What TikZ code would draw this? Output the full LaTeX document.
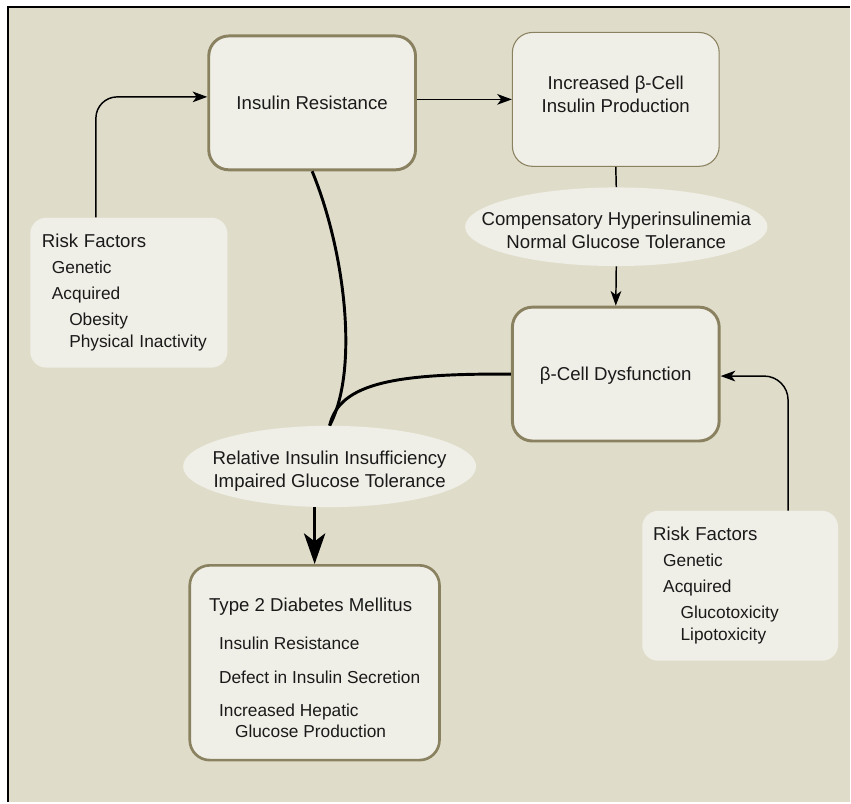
\documentclass[tikz,border=0pt]{standalone}
\usepackage{fontspec}
\setmainfont{Liberation Sans}
\usetikzlibrary{arrows.meta,shapes.geometric}
\definecolor{bgbeige}{HTML}{DFDDCA}
\definecolor{boxfill}{HTML}{F0EFE7}
\definecolor{boxline}{HTML}{8A8160}
\definecolor{inktext}{HTML}{1A1A1A}
\newcommand{\indA}{\hspace*{7.5pt}}
\newcommand{\indB}{\hspace*{20.5pt}}

\begin{document}
\begin{tikzpicture}[x=0.75pt, y=-0.75pt,
  stage/.style={draw=boxline, fill=boxfill, rounded corners=15pt, line width=2.2pt,
    minimum width=155.25pt, minimum height=100.5pt, align=center, text=inktext,
    font=\fontsize{14}{17.25}\selectfont},
  riskbox/.style={fill=boxfill, rounded corners=12pt, minimum width=148pt,
    minimum height=112.5pt, text width=130.5pt, align=left, text=inktext,
    font=\fontsize{13}{16.5}\selectfont},
  bubble/.style={ellipse, fill=boxfill, inner sep=0pt},
  bubbletext/.style={align=center, text=inktext, font=\fontsize{14}{17.25}\selectfont},
  flow/.style={line width=1.1pt, -{Stealth[length=11pt, width=8pt, inset=3pt]}},
  thickflow/.style={line width=2.2pt}
]
% page and frame
\fill[white] (0,0) rectangle (851,803);
\fill[bgbeige] (8,7) rectangle (851,803);
\draw[line width=1.5pt] (8,803) -- (8,7) -- (851,7);
\useasboundingbox (0,0) rectangle (851,803);

% boxes
\node[stage] (IR) at (312.5,103) {Insulin Resistance};
\node[stage, line width=0.8pt] (BP) at (616.5,99.5)
  {Increased β-Cell\\Insulin Production\rule[-8pt]{0pt}{1pt}};
\node[stage] (BD) at (616.5,374.5) {\rule{0pt}{12pt}β-Cell Dysfunction};
\node[stage, line width=2pt, minimum width=187.5pt, minimum height=146.25pt, align=left,
  font=\fontsize{13}{15.75}\selectfont] (T2) at (315,663.5)
  {{\fontsize{14}{15.75}\selectfont\rule{0pt}{18pt}Type 2 Diabetes Mellitus}\\[12.5pt]
   \indA Insulin Resistance\\[10.5pt]
   \indA Defect in Insulin Secretion\\[9pt]
   \indA Increased Hepatic\\
   \indA\hspace*{12pt}Glucose Production};

% ellipses
\node[bubble, minimum width=227pt, minimum height=59pt,
  label={[bubbletext, yshift=-3pt]center:Compensatory Hyperinsulinemia\\Normal Glucose Tolerance}] (CH) at (617,227) {};
\node[bubble, minimum width=220pt, minimum height=61pt,
  label={[bubbletext, yshift=-3.75pt]center:Relative Insulin Insufficiency\\Impaired Glucose Tolerance}] (RI) at (330,467) {};

% risk factors
\node[riskbox] (RF1) at (129,293)
  {{\fontsize{14}{16.5}\selectfont Risk Factors}\\[3pt]
   \indA Genetic\\[3pt]
   \indA Acquired\\[3pt]
   \indB Obesity\\
   \indB Physical Inactivity};
\node[riskbox, minimum width=147pt] (RF2) at (741,586.5)
  {{\fontsize{14}{16.5}\selectfont Risk Factors}\\[3pt]
   \indA Genetic\\[3pt]
   \indA Acquired\\[3pt]
   \indB Glucotoxicity\\
   \indB Lipotoxicity};

% connectors
\draw[flow, rounded corners=16pt] ([xshift=-24.75pt]RF1.north) |- ([yshift=4.5pt]IR.west);
\draw[flow] (IR.east |- BP.west) -- (BP.west);
\draw[line width=1.1pt] (BP.south) -- (CH.north);
\draw[flow] (CH.south) -- (BD.north);
\draw[flow, rounded corners=18pt] ([xshift=36pt]RF2.north) |- ([yshift=-1.5pt]BD.east);
\draw[thickflow] (IR.south) .. controls (345,250) and (360,370) .. (RI.north);
\draw[thickflow] (BD.west) .. controls (400,374) and (340,382) .. (RI.north);
\draw[thickflow, -{Stealth[length=23pt, width=16pt, inset=6pt]}] (T2.north |- RI.south) -- (T2.north);
\end{tikzpicture}
\end{document}
